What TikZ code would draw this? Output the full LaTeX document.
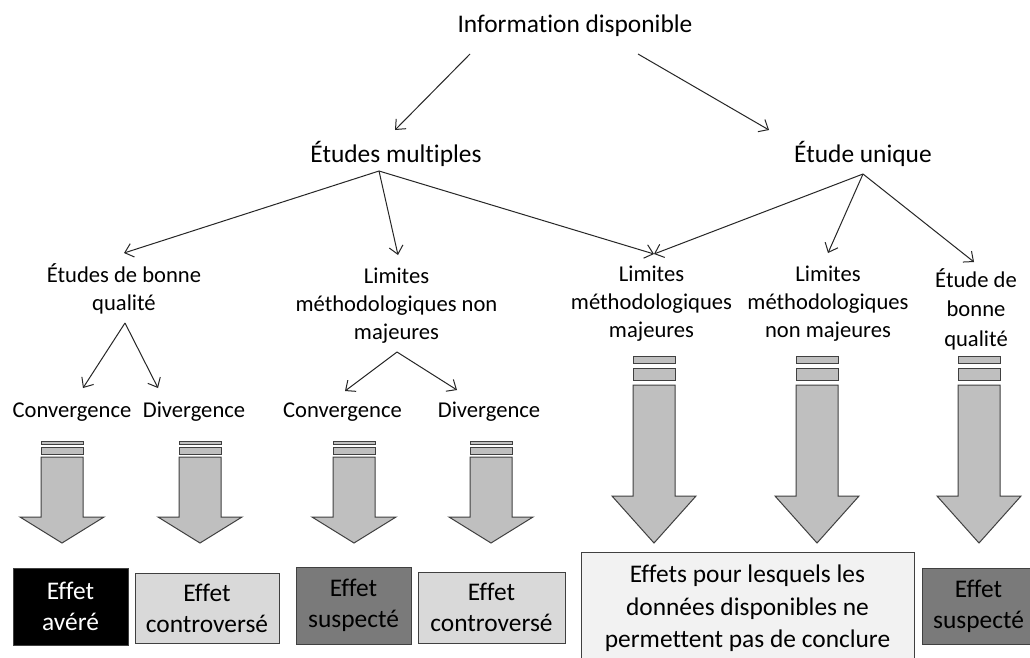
\documentclass[tikz,border=0pt]{standalone}
\usepackage{fontspec}
\setmainfont{Carlito}[Ligatures={NoCommon}]
\usetikzlibrary{arrows.meta}
\definecolor{arrfill}{HTML}{BFBFBF}
\definecolor{arrline}{HTML}{404040}
\definecolor{lightbox}{HTML}{D9D9D9}
\definecolor{palebox}{HTML}{F2F2F2}
\definecolor{darkbox}{HTML}{7A7A7A}
\newcommand\blkarrow[8]{%
  \draw[blk] (#1-21,#2) rectangle (#1+21,#3);
  \draw[blk] (#1-21,#4) rectangle (#1+21,#5);
  \draw[blk] (#1-21,#6) -- (#1+21,#6) -- (#1+21,#7) -- (#1+42,#7) -- (#1,#8) -- (#1-42,#7) -- (#1-21,#7) -- cycle;
}
\begin{document}
\begin{tikzpicture}[x=1pt,y=-1pt,
  big/.style={font=\fontsize{25.4}{31}\selectfont, inner sep=0pt, anchor=base},
  lab/.style={font=\fontsize{22.6}{27.6}\selectfont, inner sep=0pt, align=center, anchor=base},
  conn/.style={-{Straight Barb[length=8pt,width=14pt]}, line width=1pt, draw=black!85},
  blk/.style={fill=arrfill, draw=arrline, line width=1pt, line join=miter},
  res/.style={draw=arrline, line width=1pt, inner sep=0pt, align=center, font=\fontsize{25.4}{31}\selectfont},
  ]
\useasboundingbox (0,0) rectangle (1030,657);
\fill[white] (0,0) rectangle (1030,657);

% level 0 / 1
\node[big] (info)  at (575,32)  {Information disponible};
\node[big] (multi) at (396,162) {Études multiples};
\node[big] (uniq)  at (863,162) {Étude unique};

% level 2 (base = last line)
\node[lab] (bq1)  at (124,310)   {Études de bonne\\qualité};
\node[lab] (lnm1) at (396.5,339) {Limites\\méthodologiques non\\majeures};
\node[lab] (lm)   at (651.5,337) {Limites\\méthodologiques\\majeures};
\node[lab] (lnm2) at (828,337)   {Limites\\méthodologiques\\non majeures};
\node[lab, font=\fontsize{22.6}{29.5}\selectfont] (bq2) at (976,346) {Étude de\\bonne\\qualité};

% level 3
\node[lab] (conv1) at (72,417)    {Convergence};
\node[lab] (div1)  at (194,417)   {Divergence};
\node[lab] (conv2) at (342.5,417) {Convergence};
\node[lab] (div2)  at (489,417)   {Divergence};

% connectors
\draw[conn] ([shift={(-105,22)}]info.base) -- ([shift={(-1,-32)}]multi.base);
\draw[conn] ([shift={(63,22)}]info.base) -- ([shift={(-94,-32)}]uniq.base);

\draw[conn] ([shift={(-17,9)}]multi.base) -- ([shift={(0,-57)}]bq1.base);
\draw[conn] ([shift={(-17,9)}]multi.base) -- ([shift={(1.5,-84)}]lnm1.base);
\draw[conn] ([shift={(-17,9)}]multi.base) -- ([shift={(2.5,-83)}]lm.base);

\draw[conn] ([shift={(0,12)}]uniq.base) -- ([shift={(2.5,-83)}]lm.base);
\draw[conn] ([shift={(0,12)}]uniq.base) -- ([shift={(0,-84)}]lnm2.base);
\draw[conn] ([shift={(0,12)}]uniq.base) -- ([shift={(-2,-84)}]bq2.base);

\draw[conn] ([shift={(1,13)}]bq1.base) -- ([shift={(11,-29)}]conv1.base);
\draw[conn] ([shift={(1,13)}]bq1.base) -- ([shift={(-36,-29)}]div1.base);

\draw[conn] ([shift={(0.5,13)}]lnm1.base) -- ([shift={(2.5,-26)}]conv2.base);
\draw[conn] ([shift={(0.5,13)}]lnm1.base) -- ([shift={(-32,-27)}]div2.base);

% block arrows
\blkarrow{62}{441}{444}{447}{454}{457}{517}{543}
\blkarrow{200}{441}{444}{447}{454}{457}{517}{543}
\blkarrow{354}{441}{444}{447}{454}{457}{517}{543}
\blkarrow{491}{441}{444}{447}{454}{457}{517}{543}
\blkarrow{654}{356}{363}{368}{380}{385}{496}{543}
\blkarrow{817}{356}{363}{368}{380}{385}{496}{543}
\blkarrow{979}{356}{363}{368}{380}{385}{496}{543}

% result boxes
\node[res, fill=black, text=white, minimum width=115, minimum height=77] (avere) at (70.5,606.5) {Effet\\avéré};
\node[res, fill=lightbox, minimum width=144, minimum height=70] (contro1) at (207,608) {Effet\\controversé};
\node[res, fill=darkbox, minimum width=115, minimum height=77] (susp1) at (353.5,605.5) {Effet\\suspecté};
\node[res, fill=lightbox, minimum width=147, minimum height=71] (contro2) at (491.5,607.5) {Effet\\controversé};
\node[res, fill=palebox, minimum width=333, minimum height=113, font=\fontsize{25.4}{32.5}\selectfont] (nocon) at (747.5,608.5) {Effets pour lesquels les\\données disponibles ne\\permettent pas de conclure};
\node[res, fill=darkbox, minimum width=113, minimum height=76] (susp2) at (978.5,606) {Effet\\suspecté};
\end{tikzpicture}
\end{document}
